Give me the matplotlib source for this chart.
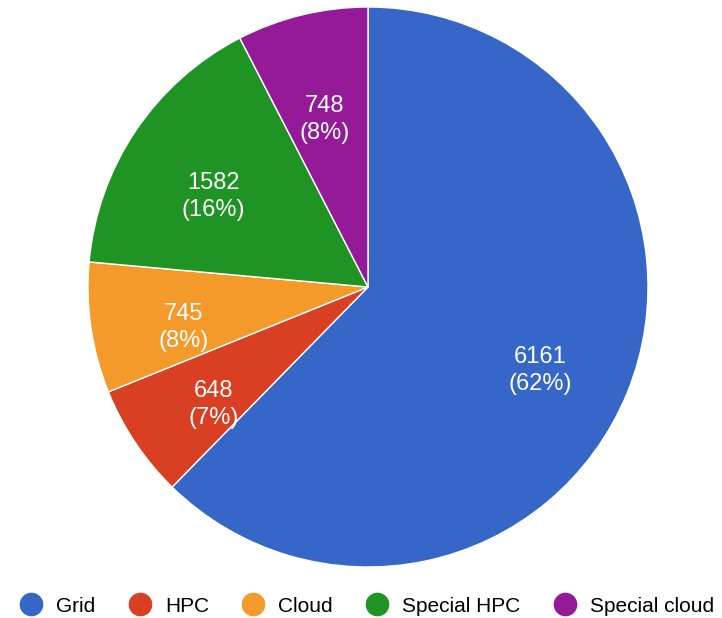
import numpy as np
import matplotlib.pyplot as plt
from matplotlib.lines import Line2D

labels = ["Grid", "HPC", "Cloud", "Special HPC", "Special cloud"]
values = [6161, 648, 745, 1582, 748]
colors = ["#3667c8", "#d83f23", "#f49a2b", "#1f9425", "#951a98"]

plt.rcParams['font.family'] = ['Liberation Sans', 'DejaVu Sans']

fig = plt.figure(figsize=(7.22, 6.18), dpi=100)
ax = fig.add_axes([88 / 722, 51 / 618, 560 / 722, 560 / 618])

total = sum(values)

wedges, texts = ax.pie(values, colors=colors, startangle=90, counterclock=False,
                       wedgeprops=dict(edgecolor="white", linewidth=1))
ax.set_xlim(-1, 1)
ax.set_ylim(-1, 1)

# slice labels: number on the first line, percent below it
r = 0.665
gap = 27 / 280
for w, v in zip(wedges, values):
    mid = np.deg2rad((w.theta1 + w.theta2) / 2)
    x, y = r * np.cos(mid), r * np.sin(mid)
    ax.text(x, y, str(v), color="white", fontsize=17, ha="center", va="center")
    ax.text(x, y - gap, "(%d%%)" % round(v / total * 100), color="white", fontsize=17,
            ha="center", va="center")

handles = [Line2D([], [], marker="o", linestyle="none", markersize=16, color=c) for c in colors]
fig.legend(handles, labels, loc="center", bbox_to_anchor=(0.509, (618 - 606) / 618), ncol=5,
           frameon=False, fontsize=15, handlelength=1.0, handletextpad=0.7, columnspacing=1.63)

fig.savefig("out.png", dpi=100)
